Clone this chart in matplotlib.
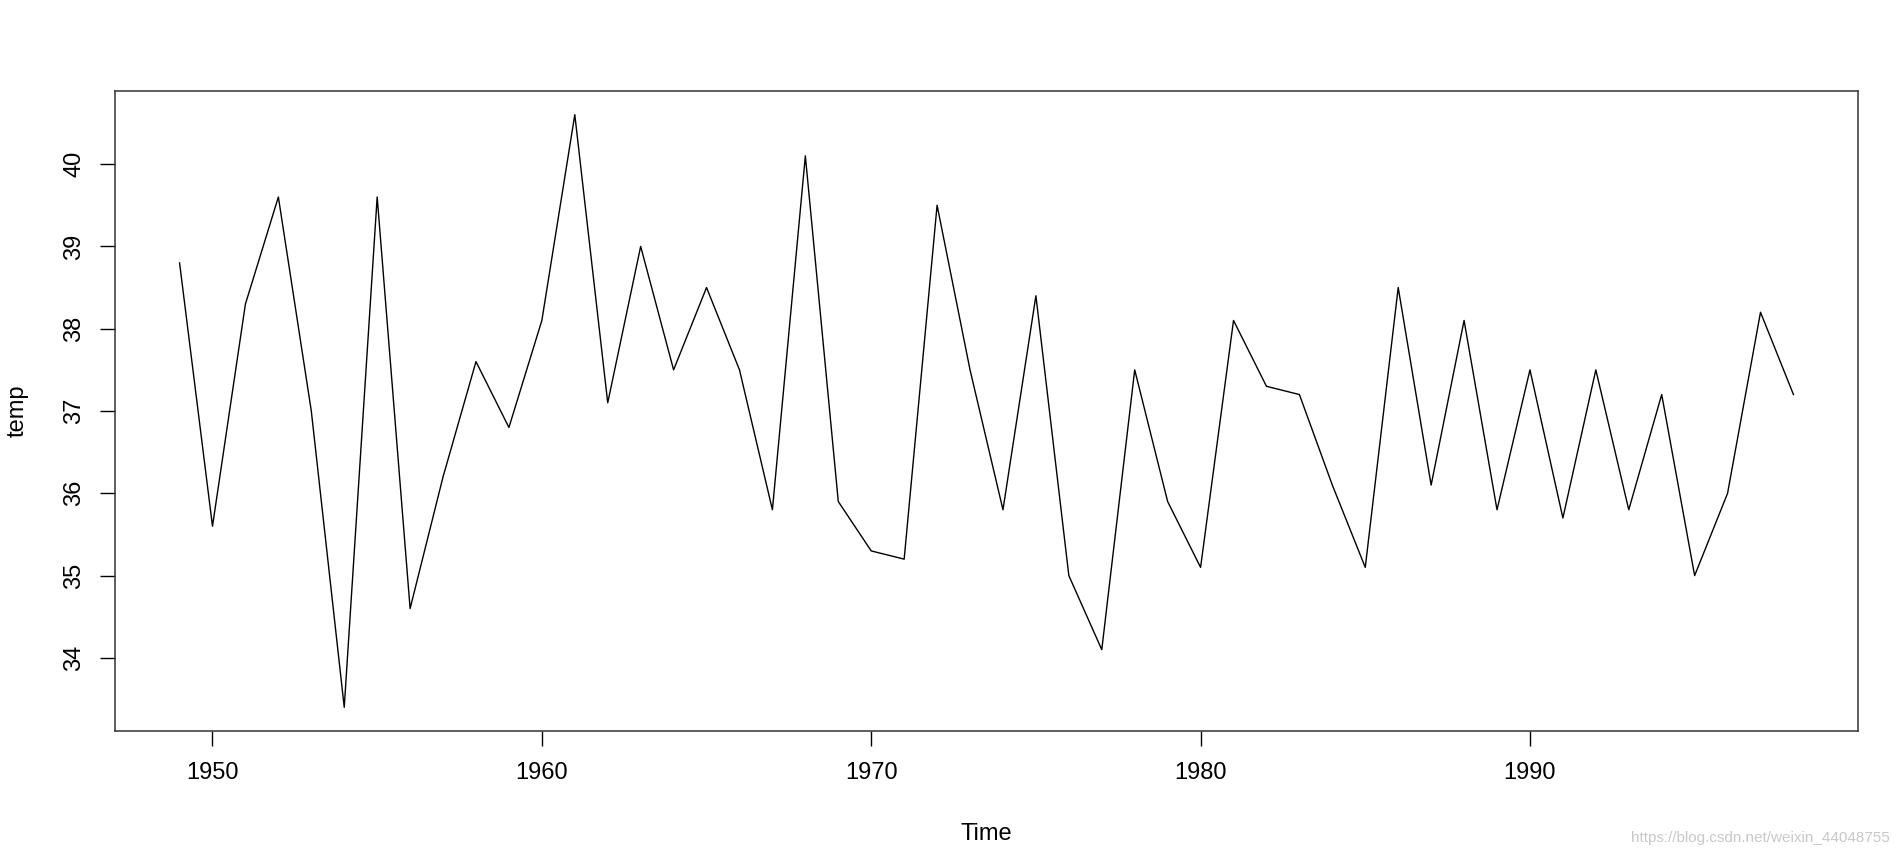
import numpy as np
import matplotlib
matplotlib.use("Agg")
import matplotlib.pyplot as plt

plt.rcParams['font.family'] = ['Liberation Sans', 'DejaVu Sans']

# yearly values
years = list(range(1949, 1999))
temp = [38.8, 35.6, 38.3, 39.6, 37.0, 33.4, 39.6, 34.6, 36.2, 37.6,
        36.8, 38.1, 40.6, 37.1, 39.0, 37.5, 38.5, 37.5, 35.8, 40.1,
        35.9, 35.3, 35.2, 39.5, 37.5, 35.8, 38.4, 35.0, 34.1, 37.5,
        35.9, 35.1, 38.1, 37.3, 37.2, 36.1, 35.1, 38.5, 36.1, 38.1,
        35.8, 37.5, 35.7, 37.5, 35.8, 37.2, 35.0, 36.0, 38.2, 37.2]
x_ticks = [1950, 1960, 1970, 1980, 1990]
y_ticks = [34, 35, 36, 37, 38, 39, 40]

fig = plt.figure(figsize=(18.98, 8.56), dpi=100)
ax = fig.add_axes([115 / 1898, 1 - 731 / 856, (1858 - 115) / 1898, (731 - 91) / 856])

ax.plot(years, temp, color='black', linewidth=1.0)

# R-style 4% padding
xr = max(years) - min(years)
yr = max(temp) - min(temp)
ax.set_xlim(min(years) - 0.04 * xr, max(years) + 0.04 * xr)
ax.set_ylim(min(temp) - 0.04 * yr, max(temp) + 0.04 * yr)

ax.set_xticks(x_ticks)
ax.set_yticks(y_ticks)
ax.set_yticklabels([str(v) for v in y_ticks], rotation=90, va='center')
ax.tick_params(axis='both', length=11, width=1.0, labelsize=17, direction='out')
ax.tick_params(axis='x', pad=11)
ax.tick_params(axis='y', pad=10.5)

for s in ax.spines.values():
    s.set_linewidth(1.1)
    s.set_color('#333333')

ax.set_xlabel('Time', fontsize=17, labelpad=28.5)
ax.set_ylabel('temp', fontsize=17, labelpad=25)

fig.text(1890 / 1898, 1 - 838 / 856, 'https://blog.csdn.net/weixin_44048755',
         ha='right', va='center', fontsize=11, color='#c8c8c8')

fig.savefig('out.png', dpi=100)
